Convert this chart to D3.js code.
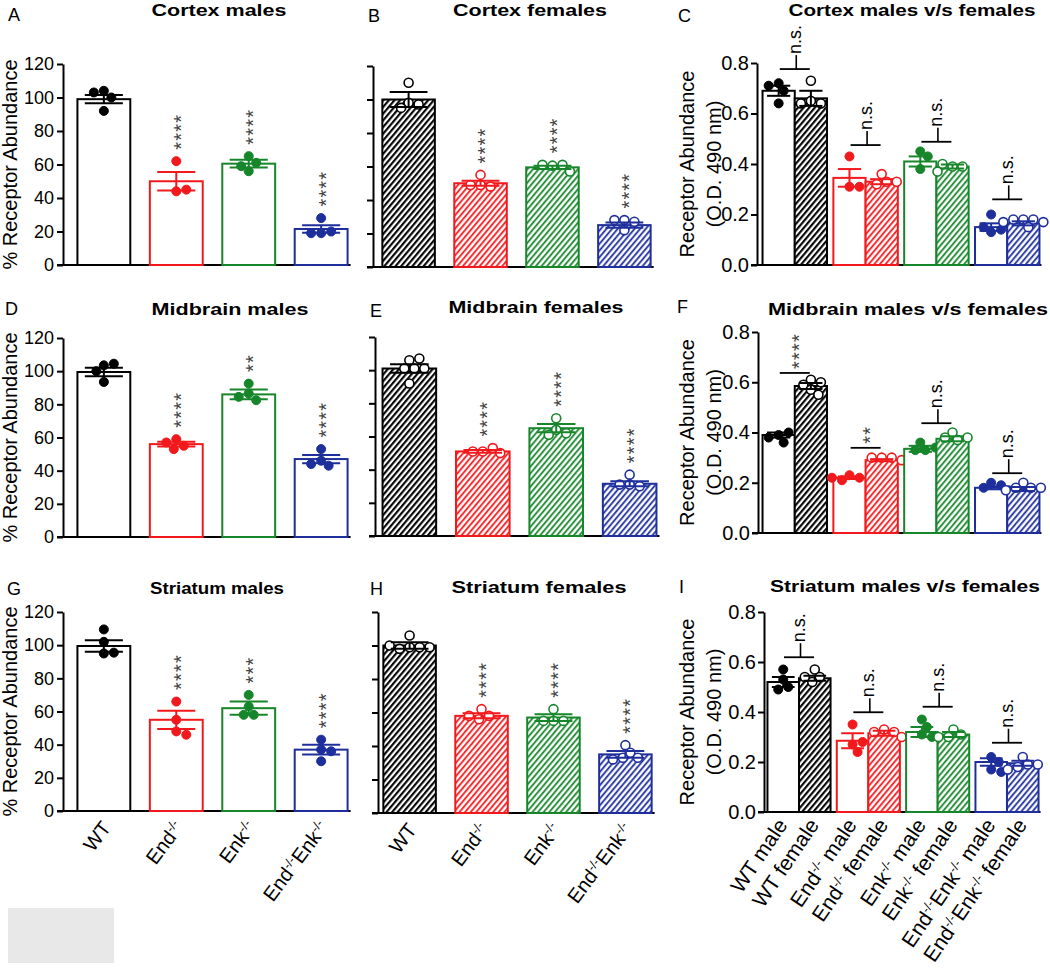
<!DOCTYPE html>
<html><head><meta charset="utf-8">
<script src="https://cdn.jsdelivr.net/npm/d3@7"></script>
<style>
body{margin:0;background:#fff}
svg text{font-family:"Liberation Sans",Arial,Helvetica,sans-serif;white-space:pre}
</style>
</head><body>
<svg id="chart" width="1050" height="969"></svg>
<script>
// ---------------- DATA ----------------
const groups = ["WT", "End-/-", "Enk-/-", "End-/-Enk-/-"];
const sexes = ["male", "female"];
const pairLabels = ["WT male","WT female","End-/- male","End-/- female","Enk-/- male","Enk-/- female","End-/-Enk-/- male","End-/-Enk-/- female"];
const pctTicks = [0, 20, 40, 60, 80, 100, 120];
const odTicks = [0.0, 0.2, 0.4, 0.6, 0.8];

// A  Cortex males (% receptor abundance)
const cortexMaleMean = [99, 50, 60.5, 21.5];
const cortexMaleSem = [2.5, 5.5, 2.3, 2.2];
const cortexMalePts = [[104, 100, 103, 92], [62, 44, 45], [65, 56, 61, 59], [28, 19, 20, 19]];
const cortexMaleSig = ["", "****", "****", "****"];
// B  Cortex females
const cortexFemaleMean = [100, 50, 59.5, 25];
const cortexFemaleSem = [4.5, 1.5, 1.0, 1.5];
const cortexFemalePts = [[110, 98, 97, 95], [55, 49, 48, 49], [60.5, 61, 61, 57], [28, 27, 28, 22]];
const cortexFemaleSig = ["", "****", "****", "****"];
// C  Cortex males v/s females (O.D. 490 nm)
const cortexOdMaleMean = [0.69, 0.345, 0.41, 0.15];
const cortexOdMaleSem = [0.02, 0.035, 0.02, 0.015];
const cortexOdMalePts = [[0.72, 0.69, 0.71, 0.64], [0.43, 0.31, 0.31], [0.45, 0.43, 0.38], [0.20, 0.13, 0.14, 0.15]];
const cortexOdFemaleMean = [0.66, 0.33, 0.39, 0.165];
const cortexOdFemaleSem = [0.03, 0.01, 0.008, 0.008];
const cortexOdFemalePts = [[0.73, 0.65, 0.64, 0.64], [0.36, 0.33, 0.32, 0.33], [0.39, 0.39, 0.40, 0.37], [0.18, 0.18, 0.18, 0.17, 0.15, 0.17]];
const cortexSexSig = ["n.s.", "n.s.", "n.s.", "n.s."];
const cortexSexLevel = [0.776, 0.475, 0.488, 0.26];

// D  Midbrain males
const midbrainMaleMean = [99.5, 56, 86, 47];
const midbrainMaleSem = [2.5, 1.5, 3.0, 2.5];
const midbrainMalePts = [[103.5, 104.5, 100, 93.5], [59, 55, 57, 53], [92.5, 86.5, 82.5, 84.5], [53, 46, 43, 44]];
const midbrainMaleSig = ["", "****", "**", "****"];
// E  Midbrain females
const midbrainFemaleMean = [101, 51, 65, 31.5];
const midbrainFemaleSem = [2.5, 0.8, 2.5, 1.5];
const midbrainFemalePts = [[106, 107, 101, 101, 101, 92], [51, 53, 51, 50], [71, 64, 62, 61], [37, 31, 30, 31]];
const midbrainFemaleSig = ["", "****", "****", "****"];
// F  Midbrain males v/s females
const midbrainOdMaleMean = [0.39, 0.22, 0.335, 0.18];
const midbrainOdMaleSem = [0.01, 0.005, 0.012, 0.006];
const midbrainOdMalePts = [[0.39, 0.40, 0.38, 0.36], [0.23, 0.22, 0.21, 0.22], [0.36, 0.33, 0.33, 0.34], [0.20, 0.19, 0.18, 0.17]];
const midbrainOdFemaleMean = [0.585, 0.29, 0.375, 0.175];
const midbrainOdFemaleSem = [0.012, 0.004, 0.01, 0.008];
const midbrainOdFemalePts = [[0.61, 0.60, 0.59, 0.57, 0.55], [0.30, 0.30, 0.30, 0.29], [0.40, 0.37, 0.38, 0.38], [0.20, 0.18, 0.18, 0.18, 0.17]];
const midbrainSexSig = ["****", "**", "n.s.", "n.s."];
const midbrainSexLevel = [0.637, 0.339, 0.437, 0.238];

// G  Striatum males
const striatumMaleMean = [99.5, 55, 62, 37];
const striatumMaleSem = [3.5, 5.5, 4.0, 3.0];
const striatumMalePts = [[109.5, 102, 95, 95.5], [66, 55, 48, 46], [70, 63, 58, 58], [43, 37, 30, 36]];
const striatumMaleSig = ["", "****", "***", "****"];
// H  Striatum females
const striatumFemaleMean = [100, 58, 57, 35];
const striatumFemaleSem = [2.0, 1.5, 2.0, 2.0];
const striatumFemalePts = [[106, 99, 99, 98, 99, 100], [62, 58, 56, 58], [62, 55, 55, 55], [40.5, 36, 33, 33, 32]];
const striatumFemaleSig = ["", "****", "****", "****"];
// I  Striatum males v/s females
const striatumOdMaleMean = [0.52, 0.285, 0.32, 0.20];
const striatumOdMaleSem = [0.02, 0.03, 0.02, 0.015];
const striatumOdMalePts = [[0.57, 0.53, 0.50, 0.49], [0.35, 0.27, 0.24, 0.28], [0.37, 0.34, 0.31, 0.30], [0.22, 0.20, 0.17, 0.16]];
const striatumOdFemaleMean = [0.535, 0.315, 0.31, 0.195];
const striatumOdFemaleSem = [0.01, 0.01, 0.01, 0.01];
const striatumOdFemalePts = [[0.57, 0.54, 0.52, 0.54], [0.33, 0.32, 0.32, 0.30], [0.33, 0.31, 0.30, 0.30], [0.22, 0.19, 0.18, 0.19, 0.17]];
const striatumSexSig = ["n.s.", "n.s.", "n.s.", "n.s."];
const striatumSexLevel = [0.619, 0.399, 0.421, 0.277];

// ---------------- STYLE ----------------
const colors = ["#000000", "#f2191c", "#17862b", "#1e2f9c"];
const starColor = "#444";
const R = 4.5;

const svg = d3.select("#chart");
const defs = svg.append("defs");
colors.forEach((c, i) => {
  const p = defs.append("pattern").attr("id", "hatch" + i)
    .attr("patternUnits", "userSpaceOnUse").attr("width", 4.3).attr("height", 4.3)
    .attr("patternTransform", "rotate(40)");
  p.append("rect").attr("width", 4.3).attr("height", 4.3).attr("fill", "#fff");
  p.append("line").attr("x1", 1.1).attr("x2", 1.1).attr("y1", -1).attr("y2", 6)
    .attr("stroke", c).attr("stroke-width", i === 0 ? 2.1 : 1.8);
});

function supText(sel, label) {
  const parts = label.split("-/-");
  parts.forEach((p, i) => {
    if (p) sel.append("tspan").text(p);
    if (i < parts.length - 1) sel.append("tspan").attr("baseline-shift", "super").attr("font-size", "62%").text("-/-");
  });
}

function swarm(vals, y, step) {
  const placed = [];
  return vals.map(v => {
    const py = y(v);
    let off = 0;
    for (let k = 0; k < 60; k++) {
      const cand = k === 0 ? 0 : (k % 2 ? 1 : -1) * Math.ceil(k / 2) * step;
      if (placed.every(p => Math.hypot(p.x - cand, p.y - py) >= 2 * R - 0.3)) { off = cand; break; }
    }
    placed.push({ x: off, y: py });
    return off;
  });
}

function styleAxis(ax, fs) {
  ax.attr("font-family", null).attr("font-size", fs);
  ax.select(".domain").attr("stroke", "#000").attr("stroke-width", 2);
  ax.selectAll(".tick line").attr("stroke", "#000").attr("stroke-width", 2);
  ax.selectAll(".tick text").attr("fill", "#000");
}

// significance stars: one vertical (rotated) string per column
function stars(g, cx, bottom, txt) {
  g.append("text").attr("transform", `translate(${cx + 11.5},${bottom}) rotate(-90)`)
    .attr("font-size", 20).attr("letter-spacing", 1.2).attr("fill", starColor).text(txt);
}

function drawBar(g, x, w, y, y0, mean, sem, pts, ci, female) {
  const c = colors[ci];
  const cx = x + w / 2;
  g.append("rect").attr("x", x).attr("y", y(mean)).attr("width", w).attr("height", y0 - y(mean))
    .attr("fill", female ? `url(#hatch${ci})` : "#fff").attr("stroke", c).attr("stroke-width", 2);
  const offs = swarm(pts, y, 2.5);
  pts.forEach((v, j) => {
    g.append("circle").attr("cx", cx + offs[j]).attr("cy", y(v)).attr("r", R)
      .attr("fill", female ? "#fff" : c).attr("stroke", c).attr("stroke-width", female ? 1.6 : 1);
  });
  const cap = w * 0.72;
  g.append("line").attr("x1", cx).attr("x2", cx).attr("y1", y(mean - sem)).attr("y2", y(mean + sem)).attr("stroke", c).attr("stroke-width", 2);
  [mean - sem, mean + sem].forEach(v => g.append("line").attr("x1", cx - cap / 2).attr("x2", cx + cap / 2)
    .attr("y1", y(v)).attr("y2", y(v)).attr("stroke", c).attr("stroke-width", 2));
  const topPt = Math.min(y(d3.max(pts)) - R, y(mean + sem));
  return { cx, top: topPt };
}

function titleAndLetter(p) {
  svg.append("text").attr("x", p.tx).attr("y", p.ty).attr("text-anchor", "middle")
    .attr("font-size", 17).attr("font-weight", "bold").attr("textLength", p.tl).attr("lengthAdjust", "spacingAndGlyphs")
    .text(p.title);
  svg.append("text").attr("x", p.lx).attr("y", p.ly).attr("font-size", 18).text(p.letter);
}

function singlePanel(p) {
  const g = svg.append("g");
  const y = d3.scaleLinear().domain([0, 120]).range([p.y0, p.y1]);
  const x = d3.scaleBand().domain(groups).range([p.x0, p.x1]).paddingInner(0.27).paddingOuter(0.13);
  const bw = x.bandwidth();
  g.append("line").attr("x1", p.axisX - 6).attr("x2", x(groups[3]) + bw + 3).attr("y1", p.y0).attr("y2", p.y0)
    .attr("stroke", "#000").attr("stroke-width", 2);
  const ax = g.append("g").attr("transform", `translate(${p.axisX},0)`)
    .call(d3.axisLeft(y).tickValues(pctTicks).tickSize(6).tickSizeOuter(0).tickPadding(3)
      .tickFormat(p.showTicks ? d3.format("d") : () => ""));
  styleAxis(ax, 18);
  groups.forEach((gr, i) => {
    const r = drawBar(g, x(gr), bw, y, p.y0, p.mean[i], p.sem[i], p.pts[i], i, p.female);
    if (p.sig[i]) stars(g, r.cx, r.top - 7, p.sig[i]);
  });
  if (p.showTicks) {
    svg.append("text").attr("transform", `translate(17,${(p.y0 + p.y1) / 2}) rotate(-90)`)
      .attr("text-anchor", "middle").attr("font-size", 20).text("% Receptor Abundance");
  }
  if (p.xLabels) {
    groups.forEach(gr => {
      const t = g.append("text").attr("text-anchor", "end").attr("font-size", 20)
        .attr("transform", `translate(${x(gr) + bw / 2 + 8},${p.y0 + 17}) rotate(-53)`);
      supText(t, gr);
    });
  }
  titleAndLetter(p);
}

function pairPanel(p) {
  const g = svg.append("g");
  const y = d3.scaleLinear().domain([0, 0.8]).range([p.y0, p.y1]);
  const xg = d3.scaleBand().domain(groups).range([p.x0, p.x1]).paddingInner(0.09).paddingOuter(0.05);
  const xs = d3.scaleBand().domain(sexes).range([0, xg.bandwidth()]).padding(0);
  const bw = xs.bandwidth();
  g.append("line").attr("x1", p.axisX - 6).attr("x2", xg(groups[3]) + xg.bandwidth() + 2).attr("y1", p.y0).attr("y2", p.y0)
    .attr("stroke", "#000").attr("stroke-width", 2);
  const ax = g.append("g").attr("transform", `translate(${p.axisX},0)`)
    .call(d3.axisLeft(y).tickValues(odTicks).tickSize(6).tickSizeOuter(0).tickPadding(2).tickFormat(d3.format(".1f")));
  styleAxis(ax, 20);
  groups.forEach((gr, i) => {
    drawBar(g, xg(gr) + xs("male"), bw, y, p.y0, p.mMean[i], p.mSem[i], p.mPts[i], i, false);
    drawBar(g, xg(gr) + xs("female"), bw, y, p.y0, p.fMean[i], p.fSem[i], p.fPts[i], i, true);
    const cx = xg(gr) + xg.bandwidth() / 2;
    const yl = y(p.level[i]);
    g.append("line").attr("x1", cx - 15).attr("x2", cx + 15).attr("y1", yl).attr("y2", yl).attr("stroke", "#000").attr("stroke-width", 1.8);
    if (p.sig[i] === "n.s.") {
      g.append("line").attr("x1", cx + 1.5).attr("x2", cx + 1.5).attr("y1", yl).attr("y2", yl - 14).attr("stroke", "#000").attr("stroke-width", 1.6);
      g.append("text").attr("transform", `translate(${cx + 6},${yl - 15}) rotate(-90)`)
        .attr("font-size", 18).attr("fill", "#000").text("n.s.");
    } else {
      stars(g, cx, yl - 4, p.sig[i]);
    }
  });
  const cy = (p.y0 + p.y1) / 2;
  svg.append("text").attr("transform", `translate(694,${cy}) rotate(-90)`).attr("text-anchor", "middle").attr("font-size", 20).text("Receptor Abundance");
  svg.append("text").attr("transform", `translate(721,${cy}) rotate(-90)`).attr("text-anchor", "middle").attr("font-size", 20).text("(O.D. 490 nm)");
  if (p.xLabels) {
    groups.forEach((gr, i) => sexes.forEach((s, j) => {
      const t = g.append("text").attr("text-anchor", "end").attr("font-size", 21)
        .attr("transform", `translate(${xg(gr) + xs(s) + bw / 2 + 5},${p.y0 + 13}) rotate(-56)`);
      supText(t, pairLabels[i * 2 + j]);
    }));
  }
  titleAndLetter(p);
}

// ---------------- PANELS ----------------
singlePanel({ letter: "A", lx: 8, ly: 21, title: "Cortex males", tx: 219, ty: 16, tl: 135,
  axisX: 63, x0: 68, x1: 357, y0: 265, y1: 64, showTicks: true, female: false, xLabels: false,
  mean: cortexMaleMean, sem: cortexMaleSem, pts: cortexMalePts, sig: cortexMaleSig });
singlePanel({ letter: "B", lx: 368, ly: 22, title: "Cortex females", tx: 530, ty: 16, tl: 154,
  axisX: 373, x0: 373, x1: 660, y0: 267, y1: 66, showTicks: false, female: true, xLabels: false,
  mean: cortexFemaleMean, sem: cortexFemaleSem, pts: cortexFemalePts, sig: cortexFemaleSig });
pairPanel({ letter: "C", lx: 678, ly: 22, title: "Cortex males v/s females", tx: 912, ty: 16, tl: 247,
  axisX: 757, x0: 759, x1: 1043, y0: 265, y1: 63, xLabels: false,
  mMean: cortexOdMaleMean, mSem: cortexOdMaleSem, mPts: cortexOdMalePts,
  fMean: cortexOdFemaleMean, fSem: cortexOdFemaleSem, fPts: cortexOdFemalePts,
  sig: cortexSexSig, level: cortexSexLevel });

singlePanel({ letter: "D", lx: 5, ly: 315, title: "Midbrain males", tx: 230, ty: 315, tl: 157,
  axisX: 63, x0: 68, x1: 357, y0: 537, y1: 338, showTicks: true, female: false, xLabels: false,
  mean: midbrainMaleMean, sem: midbrainMaleSem, pts: midbrainMalePts, sig: midbrainMaleSig });
singlePanel({ letter: "E", lx: 370, ly: 317, title: "Midbrain females", tx: 536, ty: 313, tl: 175,
  axisX: 375, x0: 373, x1: 666, y0: 536, y1: 337, showTicks: false, female: true, xLabels: false,
  mean: midbrainFemaleMean, sem: midbrainFemaleSem, pts: midbrainFemalePts, sig: midbrainFemaleSig });
pairPanel({ letter: "F", lx: 677, ly: 313, title: "Midbrain males v/s females", tx: 908, ty: 315, tl: 280,
  axisX: 758, x0: 759, x1: 1043, y0: 533, y1: 332, xLabels: false,
  mMean: midbrainOdMaleMean, mSem: midbrainOdMaleSem, mPts: midbrainOdMalePts,
  fMean: midbrainOdFemaleMean, fSem: midbrainOdFemaleSem, fPts: midbrainOdFemalePts,
  sig: midbrainSexSig, level: midbrainSexLevel });

singlePanel({ letter: "G", lx: 7, ly: 595, title: "Striatum males", tx: 217, ty: 594, tl: 134,
  axisX: 63, x0: 68, x1: 357, y0: 811, y1: 612, showTicks: true, female: false, xLabels: true,
  mean: striatumMaleMean, sem: striatumMaleSem, pts: striatumMalePts, sig: striatumMaleSig });
singlePanel({ letter: "H", lx: 370, ly: 595, title: "Striatum females", tx: 539, ty: 593, tl: 175,
  axisX: 378, x0: 374, x1: 661, y0: 813, y1: 612, showTicks: false, female: true, xLabels: true,
  mean: striatumFemaleMean, sem: striatumFemaleSem, pts: striatumFemalePts, sig: striatumFemaleSig });
pairPanel({ letter: "I", lx: 679, ly: 593, title: "Striatum males v/s females", tx: 905, ty: 592, tl: 270,
  axisX: 764, x0: 764, x1: 1042, y0: 812, y1: 612, xLabels: true,
  mMean: striatumOdMaleMean, mSem: striatumOdMaleSem, mPts: striatumOdMalePts,
  fMean: striatumOdFemaleMean, fSem: striatumOdFemaleSem, fPts: striatumOdFemalePts,
  sig: striatumSexSig, level: striatumSexLevel });

// grey placeholder box bottom-left
svg.append("rect").attr("x", 8).attr("y", 908).attr("width", 106).attr("height", 55).attr("fill", "#e8e8e8");
</script>
</body></html>
